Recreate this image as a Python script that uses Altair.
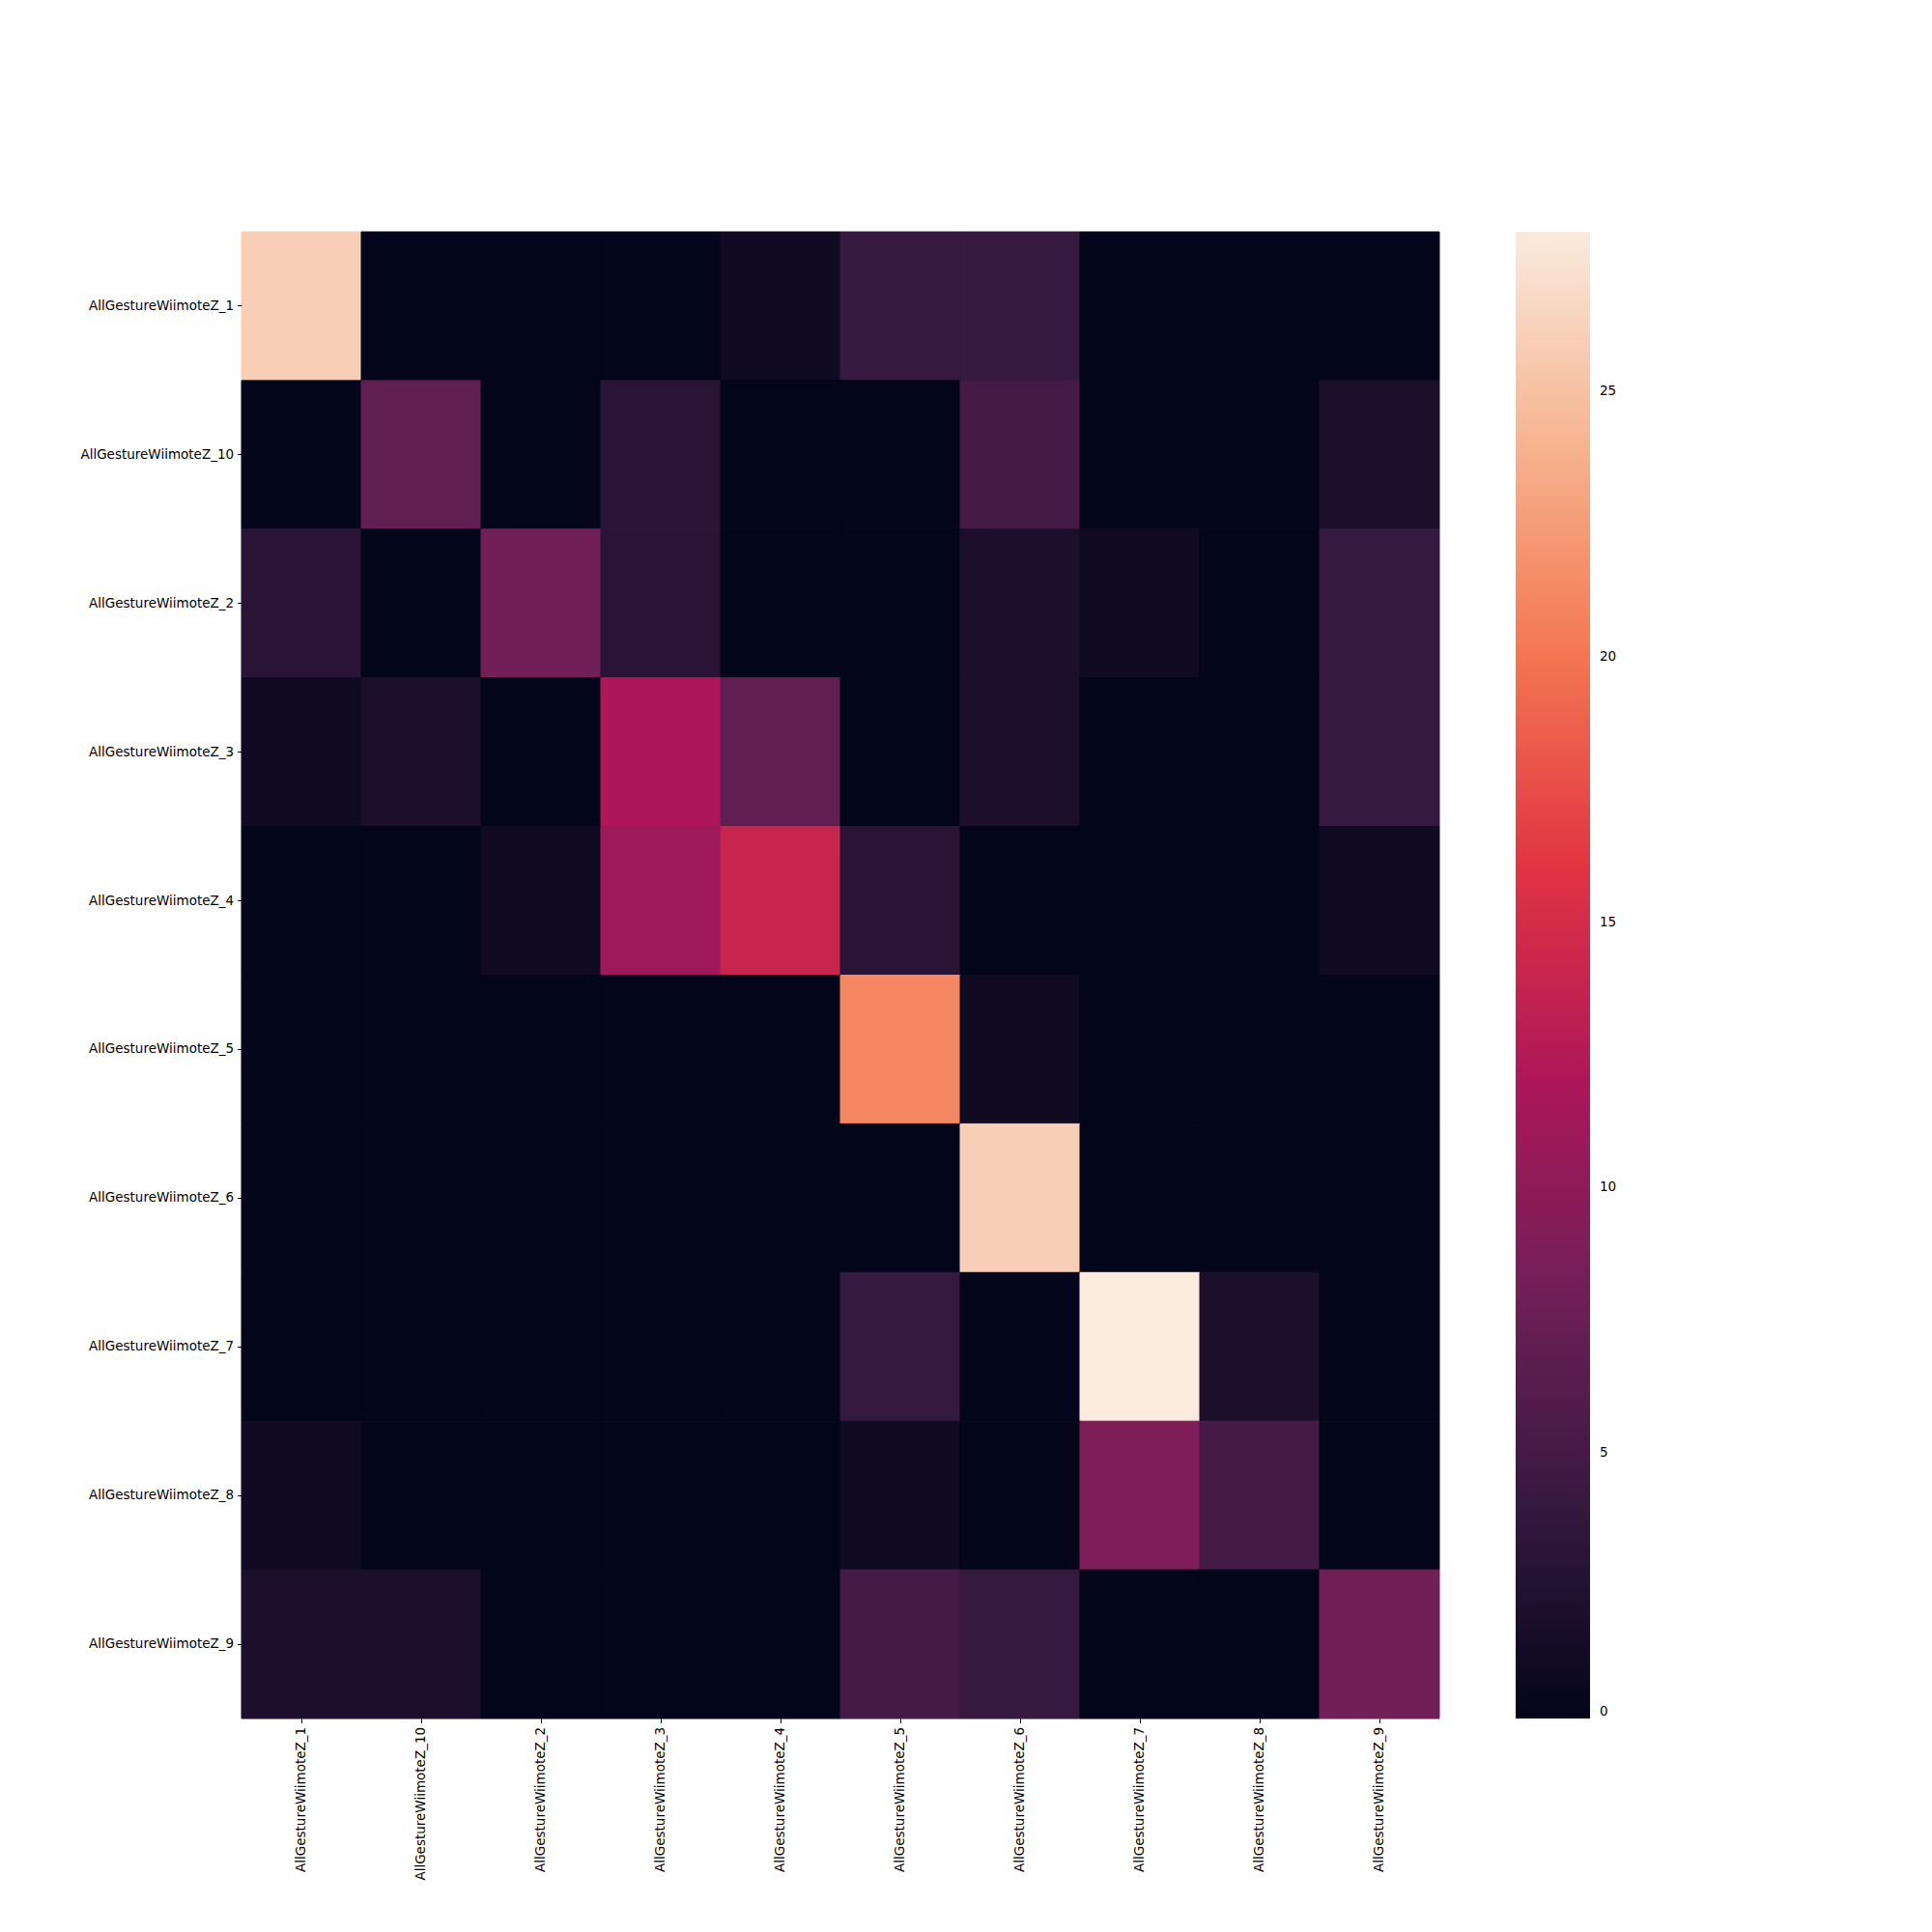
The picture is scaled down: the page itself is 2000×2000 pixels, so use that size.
import altair as alt
import pandas as pd

labels = ["AllGestureWiimoteZ_1", "AllGestureWiimoteZ_10", "AllGestureWiimoteZ_2",
          "AllGestureWiimoteZ_3", "AllGestureWiimoteZ_4", "AllGestureWiimoteZ_5",
          "AllGestureWiimoteZ_6", "AllGestureWiimoteZ_7", "AllGestureWiimoteZ_8",
          "AllGestureWiimoteZ_9"]

row_z1 = [26, 0, 0, 0, 1, 4, 4, 0, 0, 0]
row_z10 = [0, 7, 0, 3, 0, 0, 5, 0, 0, 2]
row_z2 = [3, 0, 8, 3, 0, 0, 2, 1, 0, 4]
row_z3 = [1, 2, 0, 12, 7, 0, 2, 0, 0, 4]
row_z4 = [0, 0, 1, 11, 14, 3, 0, 0, 0, 1]
row_z5 = [0, 0, 0, 0, 0, 21, 1, 0, 0, 0]
row_z6 = [0, 0, 0, 0, 0, 0, 26, 0, 0, 0]
row_z7 = [0, 0, 0, 0, 0, 4, 0, 28, 2, 0]
row_z8 = [1, 0, 0, 0, 0, 1, 0, 9, 5, 0]
row_z9 = [2, 2, 0, 0, 0, 5, 4, 0, 0, 8]
rows = [row_z1, row_z10, row_z2, row_z3, row_z4, row_z5, row_z6, row_z7, row_z8, row_z9]

colorbar_ticks = [0, 5, 10, 15, 20, 25]
rocket = ["#03051a", "#35193e", "#701f57", "#ad1759", "#e13342", "#f37651", "#f6b48f", "#faebdd"]

records = []
for lab_r, row in zip(labels, rows):
    for lab_c, v in zip(labels, row):
        records.append({"actual": lab_r, "predicted": lab_c, "count": v})
df = pd.DataFrame(records)

FONT = "DejaVu Sans"
FS = 13.5

chart = alt.Chart(df).mark_rect(
    stroke=alt.expr("scale('color', datum.count)"), strokeWidth=1
).encode(
    x=alt.X("predicted:N", sort=labels, title=None,
            axis=alt.Axis(labelAngle=-90, labelFontSize=FS, labelFont=FONT, labelColor="black",
                          tickSize=4.4, tickColor="black", tickWidth=1, domain=False,
                          labelPadding=4, labelLimit=0)),
    y=alt.Y("actual:N", sort=labels, title=None,
            axis=alt.Axis(labelFontSize=FS, labelFont=FONT, labelColor="black",
                          tickSize=4.4, tickColor="black", tickWidth=1, domain=False,
                          labelPadding=4, labelLimit=0)),
    color=alt.Color("count:Q",
                    scale=alt.Scale(domain=[0, 28], range=rocket, interpolate="rgb"),
                    legend=alt.Legend(type="gradient", title=None, orient="none",
                                      legendX=1319, legendY=0,
                                      direction="vertical", gradientLength=1539,
                                      gradientThickness=77, values=colorbar_ticks,
                                      labelFontSize=FS, labelFont=FONT, labelColor="black",
                                      labelOffset=10, gradientStrokeWidth=0)),
).properties(
    width=1240, height=1539,
    autosize=alt.AutoSizeParams(type="none"),
    padding={"left": 250, "top": 240, "right": 510, "bottom": 221},
).configure_view(stroke=None).configure_scale(bandPaddingInner=0, bandPaddingOuter=0)

chart.save("out.html", embed_options={"renderer": "svg", "actions": False})
